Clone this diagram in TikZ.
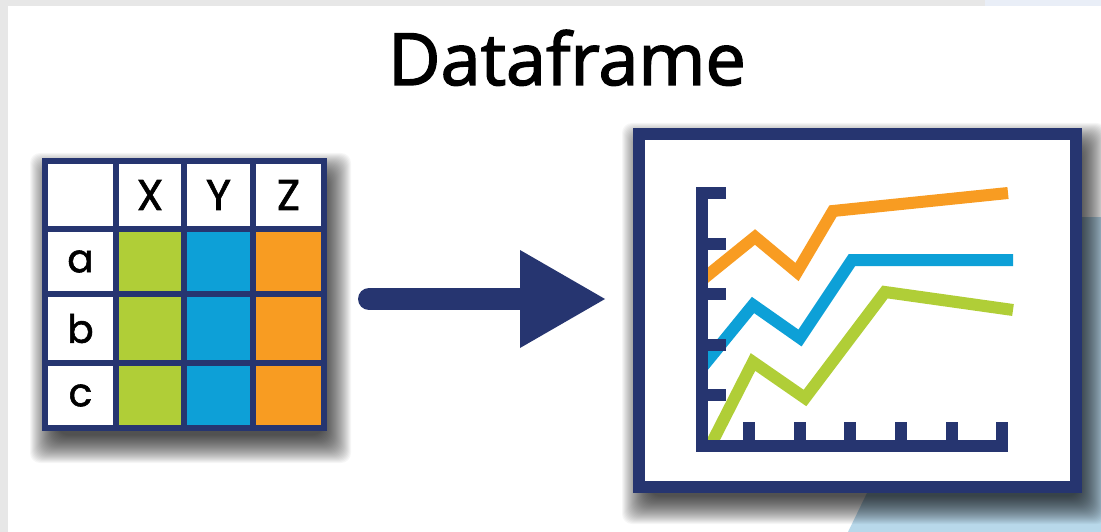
\documentclass[tikz,border=0pt]{standalone}
\usepackage{fontspec}
\setmainfont{Open Sans}
\newfontfamily\titlefont[FakeBold=2]{Open Sans}
\newfontfamily\cellfont[FakeBold=1.5]{Poppins}
\usetikzlibrary{arrows.meta}

\definecolor{navy}{RGB}{38,53,112}
\definecolor{lgreen}{RGB}{176,206,55}
\definecolor{sky}{RGB}{13,160,215}
\definecolor{amber}{RGB}{248,156,34}
\definecolor{edgegrey}{RGB}{231,231,231}
\definecolor{edgeblue}{RGB}{233,238,247}
\definecolor{paleblue}{RGB}{184,216,234}

\tikzset{
  cell/.style={rectangle, inner sep=0pt, outer sep=0pt},
  capletter/.style={font=\cellfont\fontsize{43}{43}\selectfont},
  lowletter/.style={font=\cellfont\fontsize{39}{39}\selectfont},
  shadelayer/.style={black, opacity=0.036, rounded corners=10pt},
  tableframe/.style={rectangle, fill=navy, inner sep=0pt},
  chartframe/.style={rectangle, draw=navy, fill=white, line width=12pt, inner sep=0pt},
  axisline/.style={navy, line width=12pt, line join=miter, line cap=butt},
  series/.style={line width=12pt, line join=miter, line cap=butt},
  flow/.style={navy, line width=22pt, line cap=round,
    -{Triangle[length=85pt, width=98pt, line width=0pt]}},
}

% soft drop shadow: stacked translucent rectangles around a box (x1,y1)-(x2,y2)
\newcommand\dropshade[4]{%
  \foreach \k in {0,...,28} {
    \pgfmathsetmacro\g{18-\k}
    \fill[shadelayer] (#1-\g, #2-\g) rectangle (#3+\g, #4+\g);
  }%
}

\begin{document}
\begin{tikzpicture}[x=1pt, y=-1pt]
\useasboundingbox (0,0) rectangle (1101,532);

% page background
\fill[edgegrey] (0,0) rectangle (1101,532);
\fill[edgeblue] (985,0) rectangle (1101,6);
\fill[white] (8,6) rectangle (1101,532);
\fill[paleblue] (848,532) -- (1001,217) -- (1101,217) -- (1101,532) -- cycle;

% title
\node[font=\titlefont\fontsize{72}{72}\selectfont, anchor=base] (title) at (567,85) {Dataframe};

% shadows under the two panels
\dropshade{48}{171}{333}{445}
\dropshade{640}{141}{1089}{506}

% table
\node[tableframe, minimum width=285pt, minimum height=273pt] (table) at (184.5,294.5) {};

\node[cell, fill=white, minimum width=65pt, minimum height=62pt] (h0) at (80.5,195) {};
\node[cell, fill=white, minimum width=62pt, minimum height=62pt, capletter] (hx) at (150,195) {X};
\node[cell, fill=white, minimum width=63pt, minimum height=62pt, capletter] (hy) at (218.5,195) {Y};
\node[cell, fill=white, minimum width=65pt, minimum height=62pt, capletter] (hz) at (288.5,195) {Z};

\node[cell, fill=white, minimum width=65pt, minimum height=59pt, lowletter] (ra) at (80.5,261.5) {a};
\node[cell, fill=lgreen, minimum width=62pt, minimum height=59pt] (xa) at (150,261.5) {};
\node[cell, fill=sky, minimum width=63pt, minimum height=59pt] (ya) at (218.5,261.5) {};
\node[cell, fill=amber, minimum width=65pt, minimum height=59pt] (za) at (288.5,261.5) {};

\node[cell, fill=white, minimum width=65pt, minimum height=63pt, lowletter] (rb) at (80.5,328.5) {b};
\node[cell, fill=lgreen, minimum width=62pt, minimum height=63pt] (xb) at (150,328.5) {};
\node[cell, fill=sky, minimum width=63pt, minimum height=63pt] (yb) at (218.5,328.5) {};
\node[cell, fill=amber, minimum width=65pt, minimum height=63pt] (zb) at (288.5,328.5) {};

\node[cell, fill=white, minimum width=65pt, minimum height=59pt, lowletter] (rc) at (80.5,395.5) {c};
\node[cell, fill=lgreen, minimum width=62pt, minimum height=59pt] (xc) at (150,395.5) {};
\node[cell, fill=sky, minimum width=63pt, minimum height=59pt] (yc) at (218.5,395.5) {};
\node[cell, fill=amber, minimum width=65pt, minimum height=59pt] (zc) at (288.5,395.5) {};

% chart panel
\node[chartframe, minimum width=437pt, minimum height=353pt] (chart) at (857.5,310.5) {};

% arrow from the table to the chart
\coordinate (flowstart) at (369,299);
\coordinate (flowend) at (605,299);
\draw[flow] (flowstart) -- (flowend);

% data series, clipped to the plot area
\begin{scope}
  \clip (708,150) rectangle (1030,440);
  \draw[series, amber] (700,281.5) -- (755,237) -- (797,272) -- (833,211) -- (1008,193);
  \draw[series, sky] (700,370) -- (753,305) -- (800,338) -- (852,260) -- (1013,260);
  \draw[series, lgreen] (700,466) -- (753,362) -- (805,398) -- (885,292) -- (1013,310);
\end{scope}

% axes with tick marks
\draw[axisline] (726,193) -- (702,193) -- (702,446) -- (1002,446) -- (1002,422);
\foreach \ty in {244,294,345,395}
  \draw[axisline] (708,\ty) -- (726,\ty);
\foreach \tx in {749,800,850,901,951.5}
  \draw[axisline] (\tx,440) -- (\tx,422);
\end{tikzpicture}
\end{document}
